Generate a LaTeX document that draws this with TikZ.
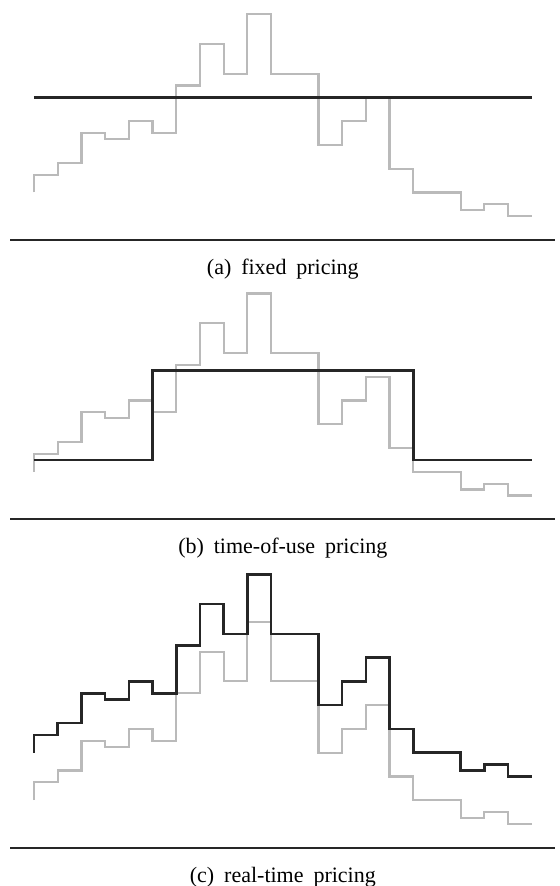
\documentclass[tikz,border=0pt]{standalone}
\usepackage{fontspec}
\setmainfont{Liberation Serif}
\usetikzlibrary{positioning}

\newcommand{\capfont}{\fontsize{11}{13}\selectfont\spaceskip=0.45em plus 0.1em\relax}
\tikzset{
  load/.style={draw=black!27, line width=1.1pt},
  price/.style={draw=black!85, line width=1.3pt},
  axisline/.style={draw=black!85, line width=1pt},
  caption/.style={font=\capfont}
}

\begin{document}
\begin{tikzpicture}[x=11.85pt, y=2.97pt]
  \useasboundingbox (-17pt,-323pt) rectangle (263pt,120pt);
  \def\loadvals{11,13,18,17,20,18,26,33,28,38,28,28,16,20,24,12,8,8,5,6,4}
  \def\hours{21}

  % (a) fixed pricing
  \draw[load] (0,8) \foreach \v [count=\i from 0] in \loadvals { -- (\i,\v) -- (\i+1,\v) };
  \draw[price] (0,24) -- (\hours,24);
  \draw[axisline] (-1,0) coordinate (basea) -- (22,0);
  \node[caption] (capa) at (10.5,-4.9) {(a) fixed pricing};

  % (b) time-of-use pricing
  \begin{scope}[yshift=-139.65pt]
    \draw[load] (0,8) \foreach \v [count=\i from 0] in \loadvals { -- (\i,\v) -- (\i+1,\v) };
    \draw[price] (0,10) -- (5,10) -- (5,25) -- (16,25) -- (16,10) -- (\hours,10);
    \draw[axisline] (-1,0) coordinate (baseb) -- (22,0);
    \node[caption] (capb) at (10.5,-4.9) {(b) time-of-use pricing};
  \end{scope}

  % (c) real-time pricing
  \begin{scope}[yshift=-303.85pt]
    \draw[load] (0,8) \foreach \v [count=\i from 0] in \loadvals { -- (\i,\v) -- (\i+1,\v) };
    \draw[price] (0,16) \foreach \v [count=\i from 0] in \loadvals { -- (\i,\v+8) -- (\i+1,\v+8) };
    \draw[axisline] (-1,0) coordinate (basec) -- (22,0);
    \node[caption] (capc) at (10.5,-4.9) {(c) real-time pricing};
  \end{scope}
\end{tikzpicture}
\end{document}
